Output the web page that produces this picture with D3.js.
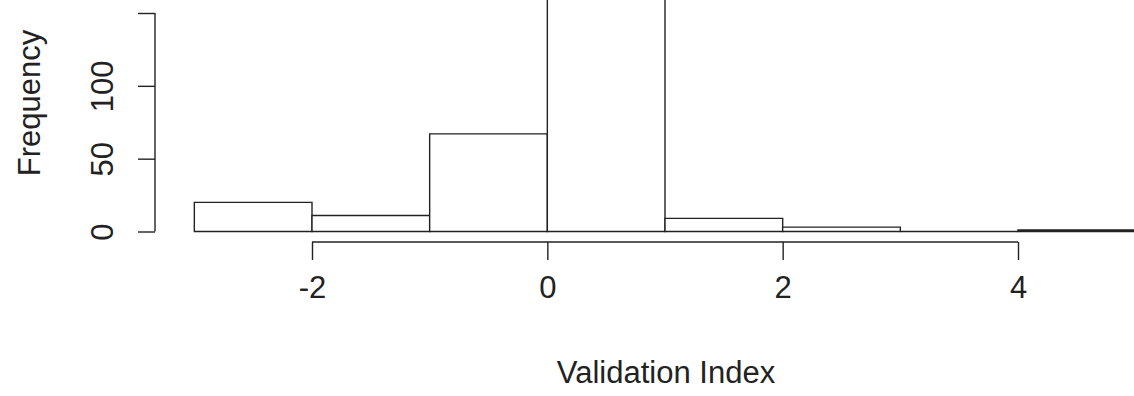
<html>
<head>
<style>
body { margin: 0; background: #fff; }
svg text { font-family: 'Liberation Sans', Arial, sans-serif; fill: #222; }
</style>
</head>
<body>
<svg></svg>
<script src="https://d3js.org/d3.v7.min.js"></script>
<script>

const width = 1134;
const height = 396;

// histogram bins (left edges) and counts
const binStarts = [-3, -2, -1, 0, 1, 2, 3, 4];
const binWidth = 1;
const counts = [20, 11, 67, 180, 9, 3, 0, 1];

const xTicks = [-2, 0, 2, 4];
const yTicks = [0, 50, 100, 150];

const xLabel = 'Validation Index';
const yLabel = 'Frequency';

const lineColor = '#222';
const fontSize = 31;

const svg = d3.select('svg')
    .attr('width', width)
    .attr('height', height);

const x = d3.scaleLinear()
    .domain([-2, 4])
    .range([312, 1018]);

const y = d3.scaleLinear()
    .domain([0, 150])
    .range([231.5, 13]);

// bars as closed paths so empty bins still show their base line
svg.append('g').selectAll('path')
    .data(binStarts)
    .enter().append('path')
        .attr('d', (d, i) => {
            const x0 = x(d), x1 = x(d + binWidth);
            const y0 = y(0), y1 = y(counts[i]);
            return `M${x0},${y0}V${y1}H${x1}V${y0}Z`;
        })
        .attr('fill', '#fff')
        .attr('stroke', lineColor)
        .attr('stroke-width', 1.4);

// x axis, R style: offset below the bars
const xAxis = svg.append('g')
    .attr('transform', 'translate(0,242)')
    .call(d3.axisBottom(x).tickValues(xTicks).tickSize(18).tickPadding(32)
        .tickFormat(d => d < 0 ? '-' + Math.abs(d) : d));
xAxis.select('.domain')
    .attr('d', `M${x(xTicks[0])},0H${x(xTicks[xTicks.length - 1])}`);

// y axis (top label falls outside the picture, as in the original)
const yAxis = svg.append('g')
    .attr('transform', 'translate(155,0)')
    .call(d3.axisLeft(y).tickValues(yTicks).tickSize(17)
        .tickFormat(d => d === 150 ? '' : d));
yAxis.select('.domain')
    .attr('d', `M0,${y(yTicks[0])}V${y(yTicks[yTicks.length - 1])}`);
yAxis.selectAll('.tick text')
    .attr('x', null)
    .attr('dy', null)
    .attr('text-anchor', 'middle')
    .attr('transform', 'translate(-42,0) rotate(-90)');

svg.selectAll('.domain, .tick line')
    .attr('stroke', lineColor)
    .attr('stroke-width', 1.4);
svg.selectAll('.tick text')
    .attr('fill', lineColor)
    .style('font-size', fontSize + 'px')
    .style('font-family', "'Liberation Sans', Arial, sans-serif");
xAxis.selectAll('.tick text').attr('dy', '0.2em');

// axis titles
svg.append('text')
    .attr('x', 666)
    .attr('y', 383)
    .attr('text-anchor', 'middle')
    .style('font-size', fontSize + 'px')
    .text(xLabel);

svg.append('text')
    .attr('transform', 'translate(40,103) rotate(-90)')
    .attr('text-anchor', 'middle')
    .style('font-size', fontSize + 'px')
    .text(yLabel);

</script>
</body>
</html>
